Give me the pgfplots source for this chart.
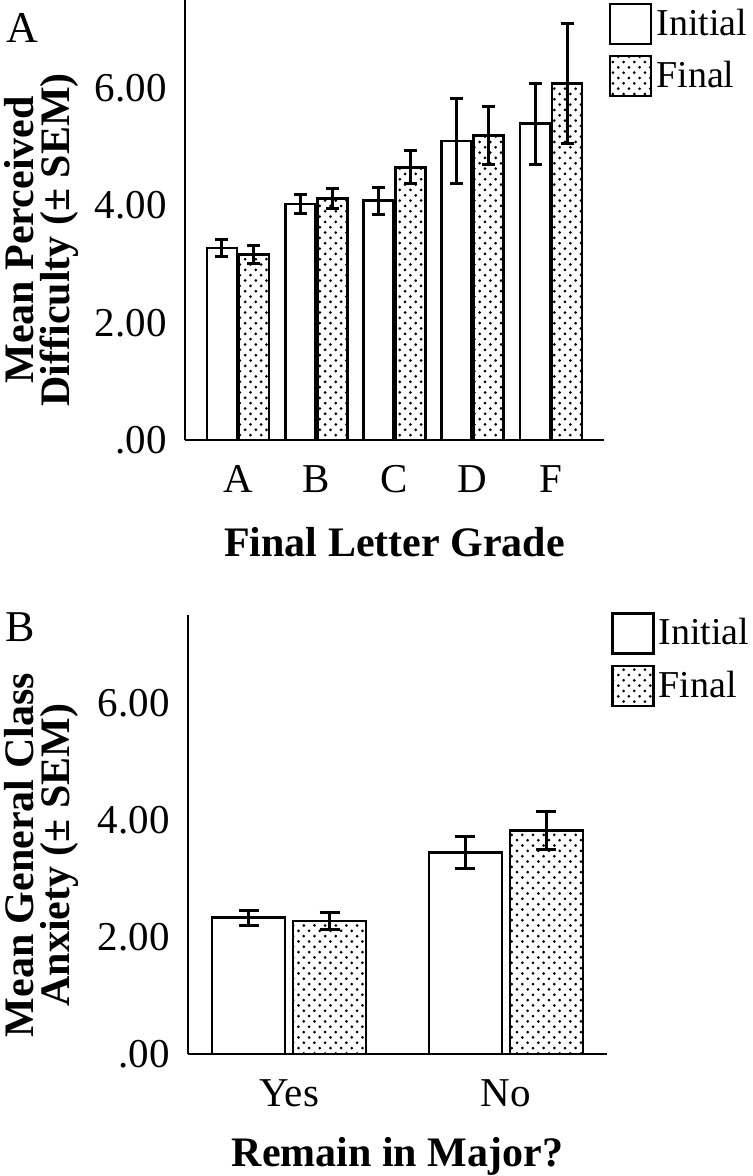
\documentclass[border=0pt]{standalone}
\usepackage{pgfplots}
\pgfplotsset{compat=1.18}
\usepackage{pgfplotstable}
\usepackage{fontspec}
\setmainfont{Liberation Serif}
\usetikzlibrary{patterns}

% staggered dot fill used by SPSS for the second series
\pgfdeclarepatternformonly{spssdots}{\pgfqpoint{-1pt}{-1pt}}{\pgfqpoint{4pt}{4pt}}{\pgfqpoint{5.33pt}{5.33pt}}{%
  \pgfpathcircle{\pgfqpoint{0pt}{0pt}}{0.75pt}%
  \pgfpathcircle{\pgfqpoint{2.67pt}{2.67pt}}{0.75pt}%
  \pgfusepath{fill}}

\pgfplotstableread{
x init initerr final finalerr
0 3.27 0.15 3.16 0.15
1 4.02 0.16 4.12 0.17
2 4.08 0.23 4.65 0.28
3 5.10 0.72 5.19 0.50
4 5.39 0.69 6.08 1.02
}\gradedata

\pgfplotstableread{
x init initerr final finalerr
0 2.33 0.13 2.27 0.15
1 3.44 0.27 3.82 0.32
}\majordata

\pgfplotsset{
  spss/.style={
    scale only axis, width=209.5pt,
    ymin=0, ymax=7.5,
    ytick={0,2,4,6}, yticklabels={.00,2.00,4.00,6.00},
    axis x line*=bottom, axis y line*=left,
    axis line style={line width=0.8pt,-},
    major tick length=0pt,
    xtick=data,
    tick label style={font=\fontsize{20.5}{24}\selectfont},
    yticklabel style={anchor=east, inner sep=0pt, xshift=-9pt},
    xticklabel style={anchor=north, inner sep=0pt, yshift=-12.5pt},
    xlabel style={at={(axis description cs:0.5,0)}, anchor=north, inner sep=0pt,
      font=\bfseries\fontsize{21}{25}\selectfont},
    ylabel style={anchor=center, align=center, inner sep=0pt,
      font=\bfseries\fontsize{21}{18}\selectfont},
    legend style={draw=none, fill=none, anchor=north west, inner sep=0pt,
      font=\fontsize{19}{22}\selectfont, row sep=5pt,
      /tikz/every even column/.style={column sep=2pt}},
    legend cell align=left,
  },
  boxlegend/.style={legend image code/.code={\draw[##1, line width=1.2pt] (0pt,-10pt) rectangle (20.5pt,10pt);}},
  initbar/.style={draw=black, fill=white, line width=1.3pt, boxlegend,
    error bars/.cd, y dir=both, y explicit,
    error bar style={line width=1.5pt, black},
    error mark options={rotate=90, mark size=#1, line width=1.5pt, black}},
  finalbar/.style={draw=black, pattern=spssdots, line width=1.3pt, boxlegend,
    error bars/.cd, y dir=both, y explicit,
    error bar style={line width=1.5pt, black},
    error mark options={rotate=90, mark size=#1, line width=1.5pt, black}},
}

\begin{document}
\begin{tikzpicture}
\path[use as bounding box] (0,0) rectangle (376pt,-588pt);

\node[font=\fontsize{22}{26}\selectfont] at (11pt,-14pt) {A};
\node[font=\fontsize{22}{26}\selectfont] at (10pt,-313.5pt) {B};

% panel A
\begin{axis}[spss,
  at={(92.5pt,-220pt)}, anchor=south west, height=220pt,
  ybar=1pt, bar width=15pt,
  xmin=-0.677, xmax=4.677,
  xticklabels={A,B,C,D,F},
  xlabel={Final Letter Grade},
  xlabel style={yshift=-43.5pt},
  ylabel={Mean Perceived\\Difficulty (± SEM)},
  ylabel style={at={(axis description cs:-0.343,0.455)}},
  legend style={at={(axis description cs:1.011,0.995)}},
]
\addplot[initbar=3.25pt] table[x=x, y=init, y error=initerr] {\gradedata};
\addplot[finalbar=3.25pt] table[x=x, y=final, y error=finalerr] {\gradedata};
\legend{Initial,Final}
\end{axis}

% panel B
\begin{axis}[spss,
  at={(94pt,-527pt)}, anchor=south west, height=219.5pt,
  ybar=4pt, bar width=36.5pt,
  xmin=-0.467, xmax=1.467,
  xticklabels={Yes,No},
  xlabel={Remain in Major?},
  xlabel style={yshift=-41.5pt},
  ylabel={Mean General Class\\Anxiety (± SEM)},
  ylabel style={at={(axis description cs:-0.350,0.453)}},
  legend style={at={(axis description cs:1.009,1.0075)}},
]
\addplot[initbar=5pt] table[x=x, y=init, y error=initerr] {\majordata};
\addplot[finalbar=5pt] table[x=x, y=final, y error=finalerr] {\majordata};
\legend{Initial,Final}
\end{axis}
\end{tikzpicture}
\end{document}
